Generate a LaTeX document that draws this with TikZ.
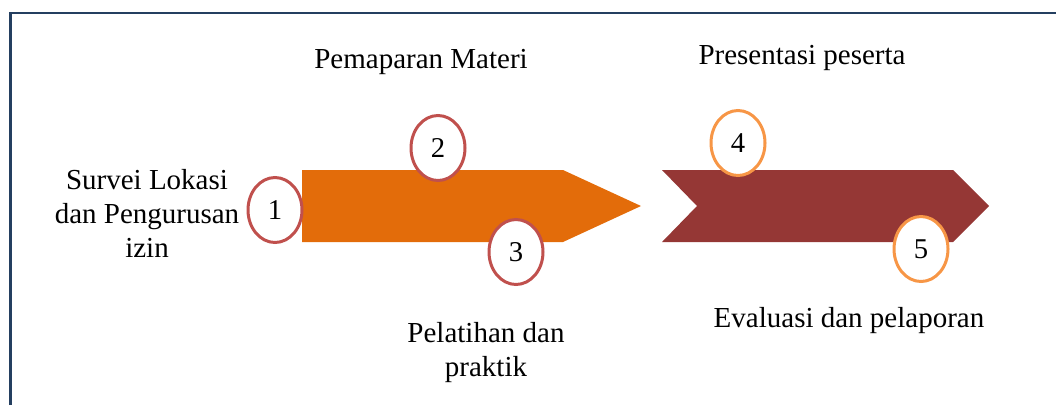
\documentclass[tikz,border=0pt]{standalone}
\usepackage{fontspec}
\setmainfont{Liberation Serif}
\usepackage{xcolor}
\usepackage{tikz}
\usetikzlibrary{shapes,positioning}
\definecolor{frameblue}{HTML}{243F60}
\definecolor{arroworange}{HTML}{E36C0A}
\definecolor{arrowred}{HTML}{953735}
\definecolor{ringred}{HTML}{C0504D}
\definecolor{ringorange}{HTML}{F79646}
\tikzset{
    ring/.style={ellipse, draw=#1, line width=2.25pt, fill=white, inner sep=0pt,
        minimum width=40.5pt, minimum height=48.75pt, font=\fontsize{21.5}{25}\selectfont},
    steptext/.style={align=center, inner sep=0pt, font=\fontsize{21.75}{25.5}\selectfont}
}

\begin{document}
\begin{tikzpicture}[x=0.75pt,y=-0.75pt]
    \useasboundingbox (0,0) rectangle (1056,405);

    % Frame
    \draw[frameblue, line width=1.9pt] (10.5,405) -- (10.5,13) -- (1056,13);

    % Arrows
    \fill[arroworange] (302,170) -- (563,170) -- (641,206) -- (563,242) -- (302,242) -- cycle;
    \fill[arrowred] (662,170) -- (953,170) -- (989,206) -- (953,242) -- (662,242) -- (697,206) -- cycle;

    % Steps
    \node[ring=ringred] (one) at (275,210) {1};
    \node[ring=ringred] (two) at (438,148) {2};
    \node[ring=ringred] (three) at (516,252) {3};
    \node[ring=ringorange] (four) at (738,143) {4};
    \node[ring=ringorange] (five) at (921,249) {5};

    % Texts
    \node[steptext] (survei) at (147,213) {Survei Lokasi\\dan Pengurusan\\izin};
    \node[steptext] (materi) at (421,62) {Pemaparan Materi};
    \node[steptext] (pelatihan) at (486,353) {Pelatihan dan\\praktik};
    \node[steptext] (presentasi) at (802,58) {Presentasi peserta};
    \node[steptext] (evaluasi) at (849,321) {Evaluasi dan pelaporan};
\end{tikzpicture}
\end{document}
